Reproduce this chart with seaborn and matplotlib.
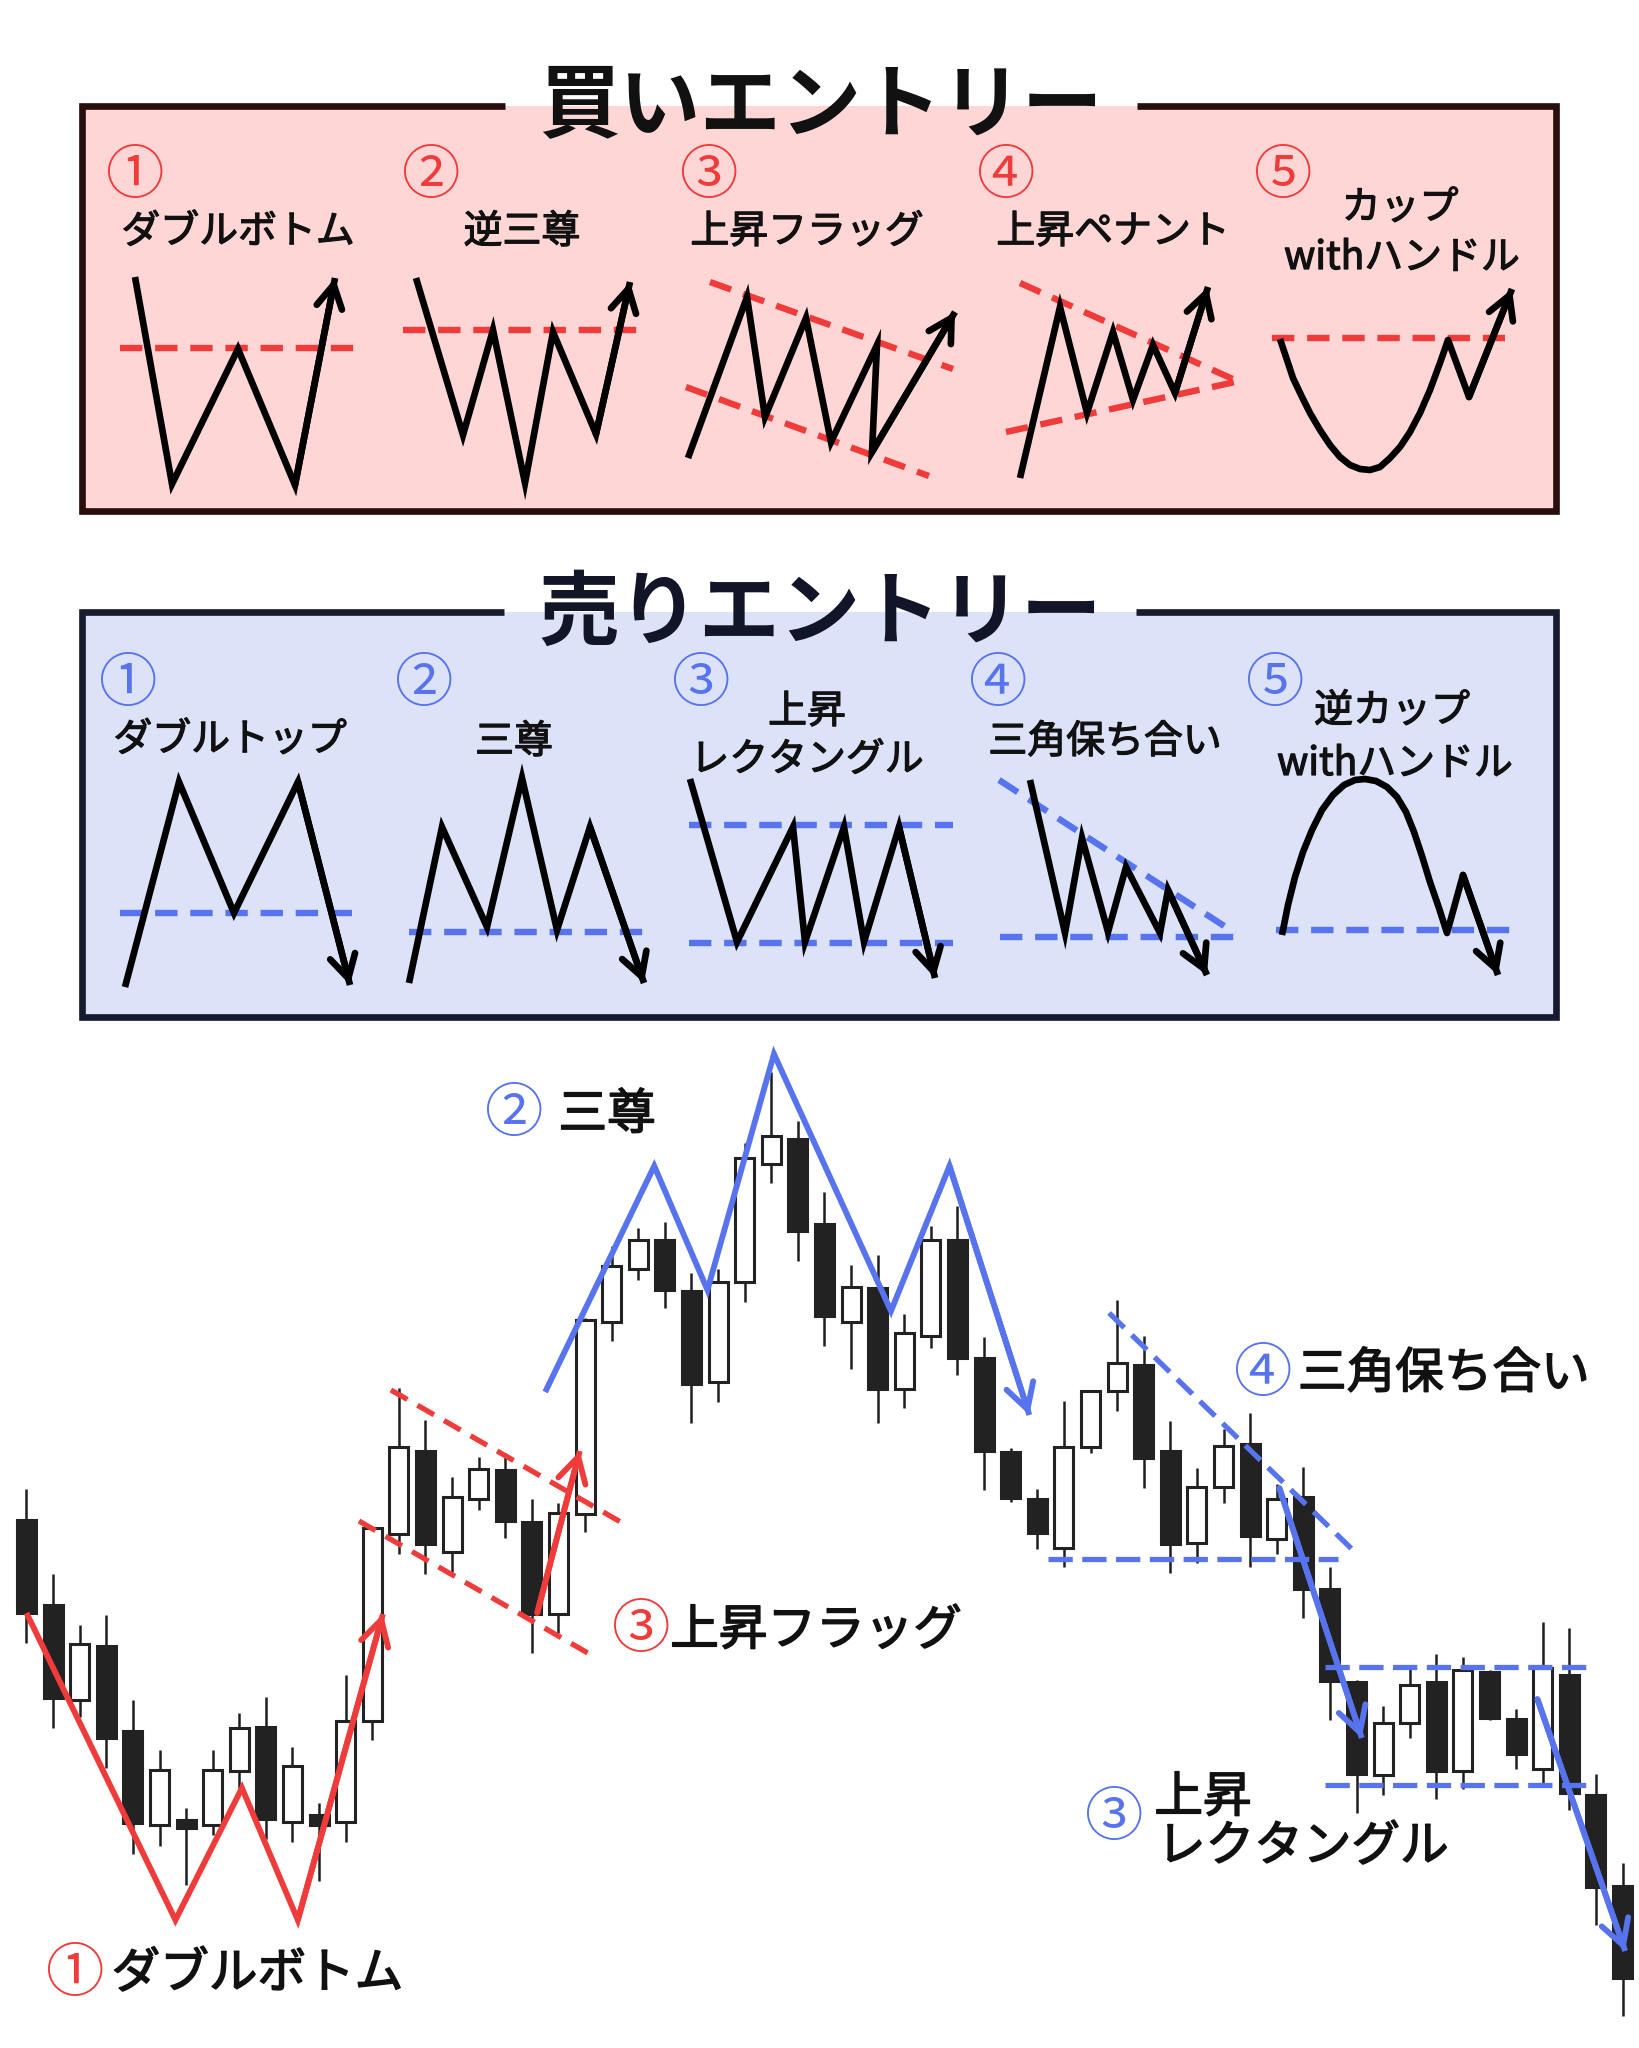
import matplotlib
matplotlib.use('Agg')
import numpy as np
import matplotlib.pyplot as plt
import matplotlib.patheffects as pe
from matplotlib.patches import Rectangle
import seaborn as sns

# ---------------------------------------------------------------
# Candle data (price units, one per candle)
# ---------------------------------------------------------------
opens = [528, 443, 348, 402, 317, 223, 228, 223, 277, 321, 226, 233, 226, 327, 514,
         597, 496, 549, 578, 526, 434, 534, 726, 779, 808, 757, 666, 766, 884, 909,
         824, 726, 760, 659, 712, 808, 690, 596, 549, 500, 601, 657, 683, 597, 505,
         561, 604, 509, 551, 459, 366, 273, 325, 366, 277, 376, 329, 279, 373, 253, 162]
closes = [435, 350, 404, 310, 225, 278, 220, 278, 320, 229, 282, 223, 327, 520, 601,
          504, 551, 579, 527, 434, 535, 728, 782, 808, 758, 664, 766, 890, 912, 817,
          732, 761, 659, 715, 808, 690, 597, 550, 515, 601, 657, 685, 590, 504, 561,
          602, 512, 549, 459, 367, 274, 325, 363, 277, 378, 330, 294, 380, 255, 161, 70]
highs = [559, 474, 423, 433, 348, 298, 240, 298, 335, 351, 301, 245, 373, 521, 660,
         628, 571, 591, 595, 549, 545, 730, 802, 820, 826, 775, 779, 905, 976, 927,
         856, 783, 793, 734, 822, 842, 711, 600, 559, 647, 658, 748, 712, 627, 580,
         619, 635, 564, 581, 481, 368, 342, 380, 394, 391, 378, 339, 426, 420, 274, 185]
lows = [405, 320, 331, 280, 194, 202, 163, 213, 260, 209, 206, 167, 206, 308, 494,
        474, 476, 538, 510, 395, 415, 516, 707, 768, 740, 625, 646, 746, 865, 787,
        702, 679, 625, 640, 700, 673, 558, 546, 499, 481, 595, 637, 560, 475, 485,
        545, 481, 494, 430, 328, 235, 253, 310, 249, 259, 328, 279, 264, 238, 123, 32]

# pattern overlays on the candle chart (candle index, price)
w_idx = [1, 6.6, 9.1, 11.2, 14.4]
w_val = [435, 128, 260, 128, 434]
flag_up_idx = [14.7, 23.4]
flag_up_val = [658, 525]
flag_lo_idx = [13.5, 22.1]
flag_lo_val = [527, 395]
flag_arrow_idx = [20.2, 21.8]
flag_arrow_val = [435, 597]
hs_idx = [20.5, 24.6, 26.6, 29.1, 33.5, 35.7, 38.7]
hs_val = [656, 882, 758, 994, 737, 882, 633]
tri_up_idx = [41.7, 50.9]
tri_up_val = [735, 497]
tri_lo_idx = [39.4, 50.3]
tri_lo_val = [489, 489]
tri_arrow_idx = [48.1, 51.2]
tri_arrow_val = [560, 310]
rect_idx = [49.8, 59.7]
rect_top = 381
rect_bot = 263
rect_arrow_idx = [57.8, 61.1]
rect_arrow_val = [349, 97]

# ---------------------------------------------------------------
# Sketch patterns in the two panels (panel pixel units)
# ---------------------------------------------------------------
b1_x = [135, 172, 238, 295, 335]
b1_y = [277, 484, 349, 485, 278]
b1_lx, b1_ly = [120, 356], [348, 348]
b2_x = [416, 463, 493, 525, 553, 596, 630]
b2_y = [278, 435, 330, 483, 332, 434, 282]
b2_lx, b2_ly = [403, 646], [330, 330]
b3_x = [688, 747, 765, 806, 831, 877, 872, 955]
b3_y = [458, 297, 417, 318, 442, 345, 452, 312]
b3_ux, b3_uy = [710, 953], [282, 369]
b3_lx, b3_ly = [686, 929], [387, 476]
b4_x = [1020, 1060, 1087, 1113, 1133, 1153, 1175, 1208]
b4_y = [478, 307, 413, 332, 400, 345, 393, 287]
b4_ux, b4_uy = [1020, 1235], [283, 380]
b4_lx, b4_ly = [1006, 1235], [432, 382]
b5_x = [1280, 1287, 1293, 1302, 1310, 1320, 1330, 1340, 1350, 1360, 1370, 1380, 1390,
        1400, 1410, 1420, 1430, 1440, 1448, 1469, 1512]
b5_y = [339, 360, 378, 397, 413, 430, 445, 457, 465, 469, 470, 467, 458,
        447, 432, 413, 390, 363, 340, 397, 289]
b5_lx, b5_ly = [1272, 1505], [338, 338]

s1_x = [125, 179, 234, 298, 350]
s1_y = [987, 782, 913, 782, 985]
s1_lx, s1_ly = [120, 352], [913, 913]
s2_x = [409, 442, 487, 522, 557, 590, 644]
s2_y = [983, 827, 927, 778, 930, 827, 983]
s2_lx, s2_ly = [409, 643], [932, 932]
s3_x = [690, 737, 793, 805, 844, 864, 899, 935]
s3_y = [779, 942, 827, 942, 827, 942, 827, 978]
s3_ux, s3_uy = [689, 953], [825, 825]
s3_lx, s3_ly = [689, 953], [943, 943]
s4_x = [1030, 1065, 1082, 1108, 1126, 1160, 1168, 1207]
s4_y = [780, 933, 838, 932, 867, 933, 890, 975]
s4_ux, s4_uy = [999, 1235], [780, 933]
s4_lx, s4_ly = [1000, 1235], [937, 937]
s5_x = [1282, 1288, 1295, 1303, 1312, 1322, 1333, 1344, 1355, 1365, 1376, 1387, 1397,
        1406, 1414, 1422, 1430, 1439, 1447, 1463, 1498]
s5_y = [935, 905, 877, 852, 830, 810, 795, 785, 780, 779, 781, 787, 797,
        812, 832, 856, 882, 908, 933, 875, 975]
s5_lx, s5_ly = [1276, 1511], [930, 930]

nums = ['①', '②', '③', '④', '⑤']
buy_title = '買いエントリー'
sell_title = '売りエントリー'
buy_names = ['ダブルボトム', '逆三尊', '上昇フラッグ', '上昇ペナント', 'カップ', 'withハンドル']
sell_names = ['ダブルトップ', '三尊', '上昇', 'レクタングル', '三角保ち合い', '逆カップ', 'withハンドル']

RED = '#F03B3B'
BLUE = '#5773EE'
INK = '#111111'

sns.set_theme(style='white')
plt.rcParams['font.family'] = ['Noto Sans CJK JP', 'DejaVu Sans']


def line(ax, xs, ys, color, lw, dashed=False, dash=(3.5, 2.0)):
    kw = dict(sort=False, estimator=None, color=color, linewidth=lw, ax=ax,
              legend=False, zorder=4)
    if dashed:
        kw['linestyle'] = (0, dash)
        kw['dash_capstyle'] = 'butt'
    else:
        kw['solid_capstyle'] = 'butt'
        kw['solid_joinstyle'] = 'miter' if len(xs) < 12 else 'round'
    sns.lineplot(x=list(xs), y=list(ys), **kw)


def head(ax, xs, ys, color, lw, scale=22):
    ax.annotate('', xy=(xs[-1], ys[-1]), xytext=(xs[-2], ys[-2]),
                arrowprops=dict(arrowstyle='->,head_length=0.75,head_width=0.42',
                                color=color, lw=lw, shrinkA=0, shrinkB=0,
                                mutation_scale=scale, joinstyle='miter'),
                zorder=5)


def panel(ax, box, gap, fill, edge, title, tcolor):
    x0, y0, x1, y1 = box
    ax.add_patch(Rectangle((x0, y0), x1 - x0, y1 - y0, facecolor=fill,
                           edgecolor='none', zorder=0))
    ax.plot([gap[0], x0, x0, x1, x1, gap[1]], [y0, y0, y1, y1, y0, y0],
            color=edge, lw=4.8, solid_joinstyle='miter', solid_capstyle='butt', zorder=1)
    ax.text((gap[0] + gap[1]) / 2, y0 + 2, title, fontsize=58, fontweight='bold',
            color=tcolor, ha='center', va='center', zorder=6)


# slightly heavier strokes for the label text
thick_s = [pe.withStroke(linewidth=0.9, foreground=INK)]
thick_l = [pe.withStroke(linewidth=1.1, foreground=INK)]

fig = plt.figure(figsize=(16.39, 20.48), dpi=100)
fig.patch.set_facecolor('white')

# ---- upper area with the two reference panels ----
ax_top = fig.add_axes([0, 1 - 1040 / 2048, 1, 1040 / 2048])
panel(ax_top, (82, 106, 1556, 511), (505, 1137), '#FFD6D6', '#2A0E0E', buy_title, INK)
panel(ax_top, (82, 612, 1556, 1017), (504, 1136), '#DCE2F8', '#171B30', sell_title, '#111527')

buy_sets = [(b1_x, b1_y, [(b1_lx, b1_ly)]),
            (b2_x, b2_y, [(b2_lx, b2_ly)]),
            (b3_x, b3_y, [(b3_ux, b3_uy), (b3_lx, b3_ly)]),
            (b4_x, b4_y, [(b4_ux, b4_uy), (b4_lx, b4_ly)]),
            (b5_x, b5_y, [(b5_lx, b5_ly)])]
sell_sets = [(s1_x, s1_y, [(s1_lx, s1_ly)]),
             (s2_x, s2_y, [(s2_lx, s2_ly)]),
             (s3_x, s3_y, [(s3_ux, s3_uy), (s3_lx, s3_ly)]),
             (s4_x, s4_y, [(s4_ux, s4_uy), (s4_lx, s4_ly)]),
             (s5_x, s5_y, [(s5_lx, s5_ly)])]
for sets, dcol in [(buy_sets, RED), (sell_sets, BLUE)]:
    for xs, ys, guides in sets:
        for gx, gy in guides:
            line(ax_top, gx, gy, dcol, 4.6, dashed=True)
        line(ax_top, xs, ys, 'black', 4.8)
        head(ax_top, xs, ys, 'black', 4.8)

# panel labels
buy_num_x = [135, 431, 709, 1006, 1283]
sell_num_x = [128, 424, 701, 998, 1275]
for i in range(5):
    ax_top.text(buy_num_x[i], 176, nums[i], fontsize=42, color=RED, ha='center', va='center')
    ax_top.text(sell_num_x[i], 685, nums[i], fontsize=42, color=BLUE, ha='center', va='center')

buy_name_pos = [(238, 232), (522, 232), (807, 232), (1113, 232), (1400, 208), (1402, 258)]
sell_name_pos = [(230, 740), (514, 742), (807, 712), (807, 760), (1105, 742),
                 (1392, 711), (1395, 764)]
for s, (x, y) in zip(buy_names, buy_name_pos):
    ax_top.text(x, y, s, fontsize=28, color=INK, ha='center', va='center',
                path_effects=thick_s)
for s, (x, y) in zip(sell_names, sell_name_pos):
    ax_top.text(x, y, s, fontsize=28, color=INK, ha='center', va='center',
                path_effects=thick_s)

ax_top.set_xlim(0, 1639)
ax_top.set_ylim(1040, 0)
ax_top.axis('off')

# ---- candlestick chart ----
ax_c = fig.add_axes([0, 0, 1, 1008 / 2048])
idx = np.arange(1, len(opens) + 1)
o = np.array(opens)
c = np.array(closes)
ax_c.vlines(idx, lows, highs, color='#1E1E1E', lw=1.8, zorder=1)
body_colors = ['white' if cc > oo else '#222222' for oo, cc in zip(o, c)]
ax_c.bar(idx, np.abs(c - o), bottom=np.minimum(o, c), width=0.72, color=body_colors,
         edgecolor='#222222', linewidth=2.2, zorder=2)

line(ax_c, w_idx, w_val, RED, 4.2)
head(ax_c, w_idx, w_val, RED, 4.2, scale=24)
line(ax_c, flag_up_idx, flag_up_val, RED, 3.8, dashed=True, dash=(3.6, 2.2))
line(ax_c, flag_lo_idx, flag_lo_val, RED, 3.8, dashed=True, dash=(3.6, 2.2))
line(ax_c, flag_arrow_idx, flag_arrow_val, RED, 4.2)
head(ax_c, flag_arrow_idx, flag_arrow_val, RED, 4.2, scale=24)

line(ax_c, hs_idx, hs_val, BLUE, 4.2)
head(ax_c, hs_idx, hs_val, BLUE, 4.2, scale=24)
line(ax_c, tri_up_idx, tri_up_val, BLUE, 3.8, dashed=True, dash=(4.0, 2.0))
line(ax_c, tri_lo_idx, tri_lo_val, BLUE, 3.8, dashed=True, dash=(4.6, 1.8))
line(ax_c, tri_arrow_idx, tri_arrow_val, BLUE, 4.2)
head(ax_c, tri_arrow_idx, tri_arrow_val, BLUE, 4.2, scale=24)
line(ax_c, rect_idx, [rect_top, rect_top], BLUE, 3.8, dashed=True, dash=(4.6, 1.8))
line(ax_c, rect_idx, [rect_bot, rect_bot], BLUE, 3.8, dashed=True, dash=(4.6, 1.8))
line(ax_c, rect_arrow_idx, rect_arrow_val, BLUE, 4.2)
head(ax_c, rect_arrow_idx, rect_arrow_val, BLUE, 4.2, scale=24)

# chart annotations
lab = dict(fontsize=35, color=INK, ha='left', va='center', path_effects=thick_l)
num = dict(fontsize=42, ha='center', va='center')
ax_c.text(2.82, 74, '①', color=RED, **num)
ax_c.text(4.2, 74, 'ダブルボトム', **lab)
ax_c.text(19.33, 933, '②', color=BLUE, **num)
ax_c.text(21.0, 933, '三尊', **lab)
ax_c.text(24.1, 417, '③', color=RED, **num)
ax_c.text(25.2, 417, '上昇フラッグ', **lab)
ax_c.text(47.49, 674, '④', color=BLUE, **num)
ax_c.text(48.8, 674, '三角保ち合い', **lab)
ax_c.text(41.88, 230, '③', color=BLUE, **num)
ax_c.text(43.4, 250, '上昇', **lab)
ax_c.text(43.5, 201, 'レクタングル', **lab)

ax_c.set_xlim(1 - 26.5 / 26.6, 1 + (1639 - 26.5) / 26.6)
ax_c.set_ylim(0, 1008)
ax_c.axis('off')

fig.savefig('out.png', dpi=100)
